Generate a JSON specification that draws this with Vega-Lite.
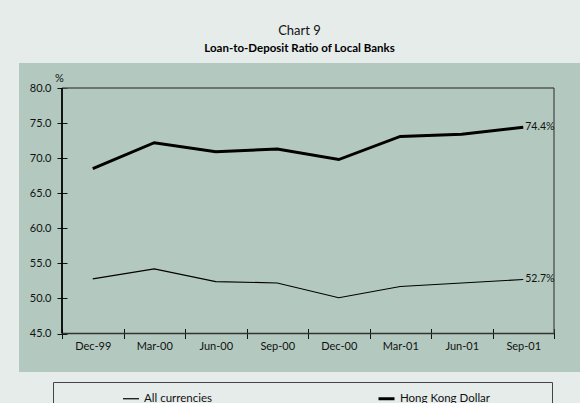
{
  "$schema": "https://vega.github.io/schema/vega-lite/v6.json",
  "width": 561,
  "height": 309,
  "autosize": {"type": "none"},
  "padding": {"left": 19, "top": 63, "right": 0, "bottom": 31},
  "background": "#e6ecea",
  "config": {
    "font": "Lato",
    "view": {"fill": "#b3c9bf", "stroke": null}
  },
  "title": {
    "text": "Chart 9",
    "subtitle": "Loan-to-Deposit Ratio of Local Banks",
    "anchor": "middle",
    "frame": "group",
    "font": "Lato",
    "fontSize": 13,
    "fontWeight": "normal",
    "color": "#111",
    "subtitleFont": "Lato",
    "subtitleFontSize": 11.5,
    "subtitleFontWeight": "bold",
    "subtitleColor": "#000",
    "subtitlePadding": 5,
    "offset": 9
  },
  "datasets": {
    "ratios": [
      {"date": "Dec-99", "series": "All currencies", "value": 52.8},
      {"date": "Mar-00", "series": "All currencies", "value": 54.2},
      {"date": "Jun-00", "series": "All currencies", "value": 52.4},
      {"date": "Sep-00", "series": "All currencies", "value": 52.2},
      {"date": "Dec-00", "series": "All currencies", "value": 50.1},
      {"date": "Mar-01", "series": "All currencies", "value": 51.7},
      {"date": "Jun-01", "series": "All currencies", "value": 52.2},
      {"date": "Sep-01", "series": "All currencies", "value": 52.7, "label": "52.7%"},
      {"date": "Dec-99", "series": "Hong Kong Dollar", "value": 68.5},
      {"date": "Mar-00", "series": "Hong Kong Dollar", "value": 72.2},
      {"date": "Jun-00", "series": "Hong Kong Dollar", "value": 70.9},
      {"date": "Sep-00", "series": "Hong Kong Dollar", "value": 71.3},
      {"date": "Dec-00", "series": "Hong Kong Dollar", "value": 69.8},
      {"date": "Mar-01", "series": "Hong Kong Dollar", "value": 73.1},
      {"date": "Jun-01", "series": "Hong Kong Dollar", "value": 73.4},
      {"date": "Sep-01", "series": "Hong Kong Dollar", "value": 74.4, "label": "74.4%"}
    ],
    "frame": [{"k": 1}]
  },
  "layer": [
    {
      "data": {"name": "frame"},
      "mark": {"type": "rule", "color": "#555", "strokeWidth": 1.5},
      "encoding": {
        "x": {"datum": "Dec-99", "type": "ordinal", "bandPosition": 0, "scale": {"domain": ["Dec-99", "Mar-00", "Jun-00", "Sep-00", "Dec-00", "Mar-01", "Jun-01", "Sep-01"], "range": [43, 535], "paddingInner": 0, "paddingOuter": 0}},
        "x2": {"datum": "Sep-01", "bandPosition": 1},
        "y": {"datum": 80, "type": "quantitative", "scale": {"domain": [45, 80], "range": [270.5, 25], "zero": false, "nice": false}}
      }
    },
    {
      "data": {"name": "frame"},
      "mark": {"type": "rule", "color": "#333", "strokeWidth": 1.5},
      "encoding": {
        "x": {"datum": "Dec-99", "type": "ordinal", "bandPosition": 0, "scale": {"domain": ["Dec-99", "Mar-00", "Jun-00", "Sep-00", "Dec-00", "Mar-01", "Jun-01", "Sep-01"], "range": [43, 535], "paddingInner": 0, "paddingOuter": 0}},
        "x2": {"datum": "Sep-01", "bandPosition": 1},
        "y": {"datum": 45, "type": "quantitative", "scale": {"domain": [45, 80], "range": [270.5, 25], "zero": false, "nice": false}}
      }
    },
    {
      "data": {"name": "frame"},
      "mark": {"type": "rule", "color": "#444", "strokeWidth": 1.2},
      "encoding": {
        "x": {"datum": "Sep-01", "type": "ordinal", "bandPosition": 1, "scale": {"domain": ["Dec-99", "Mar-00", "Jun-00", "Sep-00", "Dec-00", "Mar-01", "Jun-01", "Sep-01"], "range": [43, 535], "paddingInner": 0, "paddingOuter": 0}},
        "y": {"datum": 45, "type": "quantitative", "scale": {"domain": [45, 80], "range": [270.5, 25], "zero": false, "nice": false}},
        "y2": {"datum": 80}
      }
    },
    {
      "data": {"name": "frame"},
      "mark": {"type": "rule", "color": "#000", "strokeWidth": 1.8},
      "encoding": {
        "x": {"datum": "Dec-99", "type": "ordinal", "bandPosition": 0, "scale": {"domain": ["Dec-99", "Mar-00", "Jun-00", "Sep-00", "Dec-00", "Mar-01", "Jun-01", "Sep-01"], "range": [43, 535], "paddingInner": 0, "paddingOuter": 0}},
        "y": {"datum": 45, "type": "quantitative", "scale": {"domain": [45, 80], "range": [270.5, 25], "zero": false, "nice": false}},
        "y2": {"datum": 80}
      }
    },
    {
      "data": {"name": "ratios"},
      "mark": {"type": "line", "color": "#000"},
      "encoding": {
        "x": {
          "field": "date", "type": "ordinal",
          "scale": {"domain": ["Dec-99", "Mar-00", "Jun-00", "Sep-00", "Dec-00", "Mar-01", "Jun-01", "Sep-01"], "range": [43, 535], "paddingInner": 0, "paddingOuter": 0},
          "axis": {
            "title": null, "orient": "bottom", "offset": -43.5, "domain": false, "grid": false,
            "tickBand": "extent", "tickSize": 10, "tickColor": "#111", "tickWidth": 1,
            "labelAngle": 0, "labelAlign": "center", "labelPadding": 8, "labelFont": "Lato", "labelFontSize": 11, "labelColor": "#111"
          }
        },
        "y": {
          "field": "value", "type": "quantitative",
          "scale": {"domain": [45, 80], "range": [270.5, 25], "zero": false, "nice": false},
          "axis": {
            "title": "%", "titleAngle": 0, "titleX": -8, "titleY": 15, "titleAlign": "center", "titleBaseline": "middle",
            "titleFont": "Lato", "titleFontSize": 11, "titleFontWeight": "normal", "titleColor": "#111",
            "orient": "left", "offset": -48, "domain": false, "grid": false,
            "values": [45, 50, 55, 60, 65, 70, 75, 80], "format": ".1f",
            "tickSize": 10, "tickColor": "#111", "tickWidth": 1,
            "labelPadding": 6, "labelFont": "Lato", "labelFontSize": 11, "labelColor": "#111"
          }
        },
        "strokeWidth": {
          "field": "series", "type": "ordinal",
          "scale": {"domain": ["All currencies", "Hong Kong Dollar"], "range": [1.2, 3]},
          "legend": {
            "orient": "none", "legendX": 34, "legendY": 319, "direction": "horizontal",
            "title": " ", "titleOrient": "left", "titlePadding": 62,
            "padding": 7, "strokeColor": "#444", "fillColor": null,
            "symbolType": "stroke", "symbolSize": 256, "symbolStrokeColor": "#000",
            "labelFont": "Lato", "labelFontSize": 11.5, "labelColor": "#111", "labelOffset": 4, "labelLimit": 400,
            "columnPadding": 160,
            "labelExpr": "datum.label == 'Hong Kong Dollar' ? datum.label + '\u2800\u2800\u2800\u2800\u2800\u2800' : datum.label"
          }
        }
      }
    },
    {
      "data": {"name": "ratios"},
      "transform": [{"filter": "datum.date == 'Sep-01'"}],
      "mark": {"type": "text", "align": "left", "baseline": "middle", "dx": 2, "font": "Lato", "fontSize": 10.5, "color": "#111"},
      "encoding": {
        "x": {"field": "date", "type": "ordinal", "scale": {"domain": ["Dec-99", "Mar-00", "Jun-00", "Sep-00", "Dec-00", "Mar-01", "Jun-01", "Sep-01"], "range": [43, 535], "paddingInner": 0, "paddingOuter": 0}},
        "y": {"field": "value", "type": "quantitative", "scale": {"domain": [45, 80], "range": [270.5, 25], "zero": false, "nice": false}},
        "text": {"field": "label"}
      }
    }
  ]
}
